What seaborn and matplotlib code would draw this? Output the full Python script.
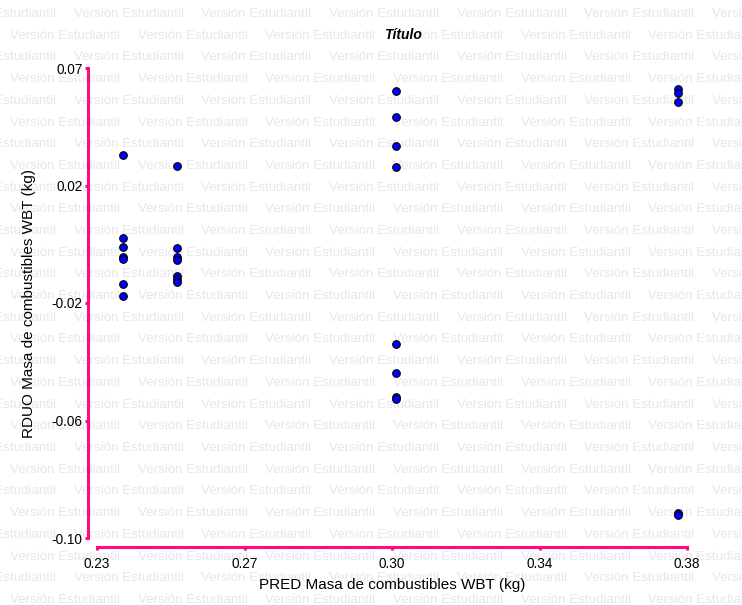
import numpy as np
import pandas as pd
import matplotlib
matplotlib.use("Agg")
import matplotlib.pyplot as plt
import seaborn as sns

# ---- data ----
pred = [0.2366, 0.2366, 0.2366, 0.2366, 0.2366, 0.2366, 0.2366,
        0.2503, 0.2503, 0.2503, 0.2503, 0.2503, 0.2503, 0.2503,
        0.3060, 0.3060, 0.3060, 0.3060, 0.3060, 0.3060, 0.3060, 0.3060,
        0.3777, 0.3777, 0.3777, 0.3777, 0.3777]
resid = [0.0385, 0.0085, 0.0053, 0.0016, 0.0009, -0.0081, -0.0125,
         0.0346, 0.0049, 0.0016, 0.0006, -0.0052, -0.0063, -0.0074,
         0.0617, 0.0523, 0.0418, 0.0342, -0.0298, -0.0403, -0.0490, -0.0497,
         0.0624, 0.0610, 0.0577, -0.0910, -0.0916]
x_tick_labels = ['0.23', '0.27', '0.30', '0.34', '0.38']
y_tick_labels = ['-0.10', '-0.06', '-0.02', '0.02', '0.07']
x_label = 'PRED Masa de combustibles WBT (kg)'
y_label = 'RDUO Masa de combustibles WBT (kg)'
title = 'Título'
watermark = 'Versión Estudiantil'

sns.set_style("white")
plt.rcParams['font.family'] = ['Liberation Sans', 'DejaVu Sans']

W, H = 742, 605
PINK = '#ff0a82'
fig = plt.figure(figsize=(W / 100, H / 100), dpi=100)
fig.patch.set_facecolor('white')
ax = fig.add_axes([97 / W, 67 / H, 590 / W, 470 / H])
ax.set_facecolor('none')

# watermark background
for i in range(28):
    y = 14 + i * 21.7
    x0 = -54 if i % 2 == 0 else 10
    for k in range(8):
        x = x0 + k * 127.7
        fig.text(x / W, 1 - y / H, watermark, ha='left', va='center',
                 color='#e7e7e7', fontsize=9.6, zorder=-5)

df = pd.DataFrame({'PRED': pred, 'RDUO': resid})
sns.scatterplot(data=df, x='PRED', y='RDUO', ax=ax, color='#0000ff',
                edgecolor='black', linewidth=0.8, s=30, zorder=3, clip_on=False)

ax.set_xlim(0.23, 0.38)
ax.set_ylim(-0.10, 0.07)
ax.set_xticks(np.linspace(0.23, 0.38, len(x_tick_labels)), x_tick_labels)
ax.set_yticks(np.linspace(-0.10, 0.07, len(y_tick_labels)), y_tick_labels)

for side in ['top', 'right']:
    ax.spines[side].set_visible(False)
for side in ['left', 'bottom']:
    ax.spines[side].set_visible(True)
    ax.spines[side].set_color(PINK)
    ax.spines[side].set_linewidth(2.2)
    ax.spines[side].set_position(('outward', 6.5))
ax.spines['left'].set_bounds(-0.10, 0.07)
ax.spines['bottom'].set_bounds(0.23, 0.38)

ax.tick_params(axis='both', which='major', direction='out', length=2.5,
               width=2.2, color=PINK, labelsize=9.8, labelcolor='black',
               bottom=True, left=True)
ax.tick_params(axis='y', pad=1.5)
ax.tick_params(axis='x', pad=5)

ax.set_xlabel(x_label, fontsize=11, color='black')
ax.set_ylabel(y_label, fontsize=11, color='black')
ax.xaxis.label.set_va('center')
ax.yaxis.label.set_va('center')
ax.xaxis.set_label_coords(0.5, (538 - 585) / 470)
ax.yaxis.set_label_coords((29 - 97) / 590, 0.5)

fig.text(403 / W, 1 - 35 / H, title, ha='center', va='center',
         fontsize=10, fontweight='bold', fontstyle='italic', color='black')

fig.savefig('out.png', dpi=100, facecolor='white')
